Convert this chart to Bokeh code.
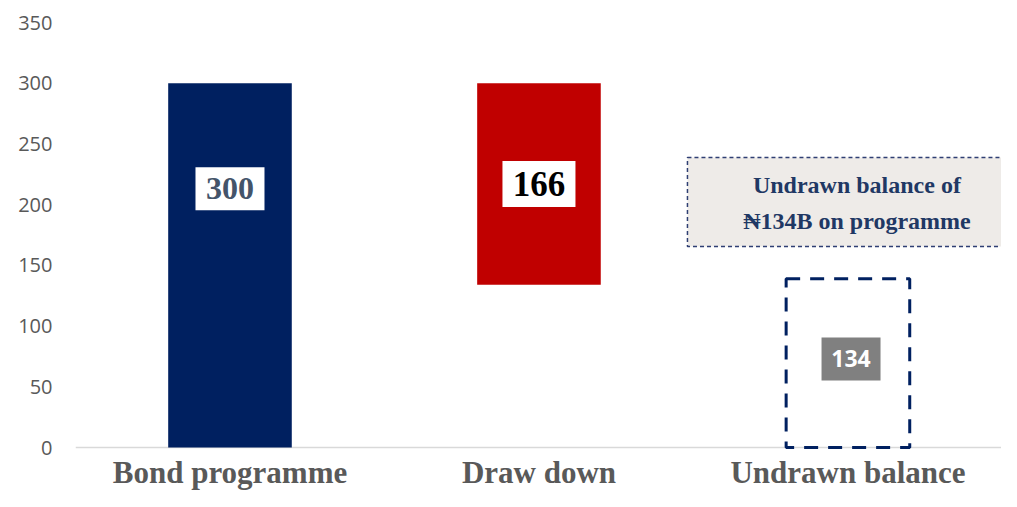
from bokeh.plotting import figure
from bokeh.models import Range1d, FixedTicker
from bokeh.core.properties import value
from bokeh.embed import file_html
from bokeh.resources import INLINE

# ---- data ----
categories = ["Bond programme", "Draw down", "Undrawn balance"]
programme = 300
drawn = 166
undrawn = 134
y_ticks = [0, 50, 100, 150, 200, 250, 300, 350]
note_lines = ["Undrawn balance of", "\u20a6134B on programme"]

# ---- layout / style constants ----
NAVY = "#002060"
RED = "#C00000"
GREY_TXT = "#595959"
SERIF = value("Liberation Serif")
SANS = value("Open Sans")
bar_w = 0.4
outline_headroom = 5      # dashed box drawn a little above the undrawn value
label_y_programme = 213
label_y_undrawn = 73

xs = list(range(len(categories)))

p = figure(width=1001, height=491, output_backend="svg", toolbar_location=None,
           x_range=Range1d(-0.5, 2.497), y_range=Range1d(-36.2, 350),
           x_axis_location=None, min_border_left=75, min_border_right=0,
           min_border_top=22, min_border_bottom=0)
p.outline_line_color = None
p.xgrid.visible = False
p.ygrid.visible = False
p.background_fill_color = "white"

ya = p.yaxis[0]
ya.ticker = FixedTicker(ticks=y_ticks)
ya.axis_line_color = None
ya.major_tick_line_color = None
ya.minor_tick_line_color = None
ya.major_tick_out = 0
ya.major_label_standoff = 23
ya.major_label_text_font = "Open Sans"
ya.major_label_text_font_size = "20px"
ya.major_label_text_color = GREY_TXT

# baseline
p.segment(x0=[xs[0] - 0.5], y0=[0], x1=[xs[-1] + 0.5], y1=[0],
          line_color="#D9D9D9", line_width=1.5)

# bars
p.vbar(x=[xs[0]], bottom=[0], top=[programme], width=bar_w,
       fill_color=NAVY, line_color=None)
p.vbar(x=[xs[1]], bottom=[undrawn], top=[undrawn + drawn], width=bar_w,
       fill_color=RED, line_color=None)
p.vbar(x=[xs[2]], bottom=[0], top=[undrawn + outline_headroom], width=bar_w,
       fill_color=None, line_color=NAVY, line_width=3, line_dash="14 10")

# value labels
p.rect(x=[xs[0]], y=[label_y_programme], width=69, height=43,
       width_units="screen", height_units="screen", fill_color="white", line_color=None)
p.text(x=[xs[0]], y=[label_y_programme], text=[str(programme)], text_font=SERIF,
       text_font_style="bold", text_font_size="32px", text_color="#44546A",
       text_align="center", text_baseline="middle")

mid_draw = undrawn + drawn / 2
p.rect(x=[xs[1]], y=[mid_draw], width=73, height=46,
       width_units="screen", height_units="screen", fill_color="white", line_color=None)
p.text(x=[xs[1]], y=[mid_draw], text=[str(drawn)], text_font=SERIF,
       text_font_style="bold", text_font_size="35px", text_color="black",
       text_align="center", text_baseline="middle")

p.rect(x=[xs[2] + 0.01], y=[label_y_undrawn], width=59, height=43,
       width_units="screen", height_units="screen", fill_color="#808080", line_color=None)
p.text(x=[xs[2] + 0.01], y=[label_y_undrawn], text=[str(undrawn)], text_font=SANS,
       text_font_style="bold", text_font_size="23px", text_color="white",
       text_align="center", text_baseline="middle")

# note box
p.quad(left=[1.4806], right=[2.7], bottom=[165.5], top=[238.8],
       fill_color="#EEEBE8", line_color="#2F3F73", line_width=1.5, line_dash="4 3")
p.text(x=[2.029, 2.029], y=[215.8, 186.9], text=note_lines, text_font=SERIF,
       text_font_style="bold", text_font_size="24px", text_color="#1F3864",
       text_align="center", text_baseline="middle")

# category labels
p.text(x=xs, y=[-20.6] * len(xs), text=categories, text_font=SERIF,
       text_font_style="bold", text_font_size="31px", text_color=GREY_TXT,
       text_align="center", text_baseline="middle")

open("out.html", "w").write(file_html(p, INLINE))
